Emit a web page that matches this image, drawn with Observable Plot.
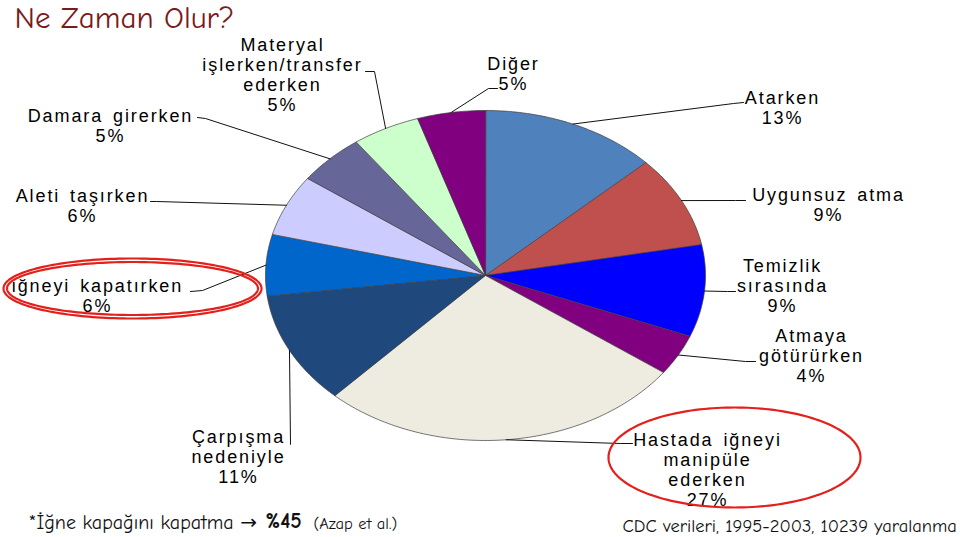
<!DOCTYPE html>
<html>
<head>
<meta charset="utf-8">
<script src="https://cdn.jsdelivr.net/npm/d3@7"></script>
<script src="https://cdn.jsdelivr.net/npm/@observablehq/plot@0.6"></script>
<style>
  html, body { margin: 0; padding: 0; background: #fff; }
  g[aria-description="slice-labels"] text { letter-spacing: 1.9px; word-spacing: 3px; }
</style>
</head>
<body>
<div id="chart"></div>
<script>
// ---------- DATA ----------
const categories = [
  "Atarken", "Uygunsuz atma", "Temizlik sırasında", "Atmaya götürürken",
  "Hastada iğneyi manipüle ederken", "Çarpışma nedeniyle", "iğneyi kapatırken",
  "Aleti taşırken", "Damara girerken", "Materyal işlerken/transfer ederken", "Diğer"
];
const values = [13, 9, 9, 4, 27, 11, 6, 6, 5, 5, 5];
const sliceColors = [
  "#4F81BD", "#C0504D", "#0000FF", "#800080", "#EEECE1", "#1F497D",
  "#0066CC", "#CCCCFF", "#666699", "#CCFFCC", "#800080"
];
// label text as it is broken into lines in the chart
const labelLines = [
  "Atarken", "Uygunsuz atma", "Temizlik\nsırasında", "Atmaya\ngötürürken",
  "Hastada iğneyi\nmanipüle\nederken", "Çarpışma\nnedeniyle", "iğneyi kapatırken",
  "Aleti taşırken", "Damara girerken", "Materyal\nişlerken/transfer\nederken", "Diğer"
];
const titleText = "Ne Zaman Olur?";
const noteText = "*İğne kapağını kapatma →";
const noteValue = "%45";
const noteSource = "(Azap et al.)";
const captionText = "CDC verileri, 1995-2003, 10239 yaralanma";

// ---------- LAYOUT (pixels) ----------
const pie = {cx: 485, cy: 275, rx: 220, ry: 165};
const labelLayout = [
  {x: 782, y: 107, knee: [733, 103], end: [743, 102]},
  {x: 828, y: 204, knee: [735, 200], end: [745, 200]},
  {x: 782, y: 285, knee: [727, 291], end: [735, 291]},
  {x: 811, y: 355, knee: [745, 361], end: [755, 361]},
  {x: 707, y: 469, knee: [620, 443], end: [632, 443]},
  {x: 238, y: 456, knee: [290, 444], end: [290, 444]},
  {x: 97,  y: 295, knee: [202, 290], end: [190, 291]},
  {x: 82,  y: 205, knee: [156, 201], end: [150, 201]},
  {x: 110, y: 125, knee: [205, 118], end: [197, 117]},
  {x: 282, y: 74,  knee: [374, 71],  end: [365, 71]},
  {x: 513, y: 73,  knee: [488, 88],  end: [497, 88]}
];
const highlightEllipses = [
  {cx: 132, cy: 288, rx: 129, ry: 30},
  {cx: 132, cy: 288, rx: 125.5, ry: 26.5},
  {cx: 734, cy: 457, rx: 126, ry: 50}
];

// ---------- GEOMETRY ----------
const arcs = d3.pie().sort(null).startAngle(0).endAngle(2 * Math.PI)(values);
const onEdge = (a) => [pie.cx + pie.rx * Math.sin(a), pie.cy - pie.ry * Math.cos(a)];

const sliceRows = [];
arcs.forEach((arc, i) => {
  sliceRows.push({i, x: pie.cx, y: pie.cy, color: sliceColors[i]});
  const n = Math.max(2, Math.ceil((arc.endAngle - arc.startAngle) / (Math.PI / 180)));
  for (let k = 0; k <= n; k++) {
    const [x, y] = onEdge(arc.startAngle + (arc.endAngle - arc.startAngle) * k / n);
    sliceRows.push({i, x, y, color: sliceColors[i]});
  }
});

const leaderRows = [];
arcs.forEach((arc, i) => {
  const [sx, sy] = onEdge((arc.startAngle + arc.endAngle) / 2);
  const L = labelLayout[i];
  leaderRows.push({i, x: sx, y: sy});
  leaderRows.push({i, x: L.knee[0], y: L.knee[1]});
  leaderRows.push({i, x: L.end[0], y: L.end[1]});
});

const labelRows = categories.map((c, i) => ({
  name: c,
  x: labelLayout[i].x,
  y: labelLayout[i].y,
  text: labelLines[i] + "\n" + values[i] + "%"
}));

const ellipseRows = [];
highlightEllipses.forEach((e, j) => {
  for (let k = 0; k < 180; k++) {
    const t = 2 * Math.PI * k / 180;
    ellipseRows.push({j, x: e.cx + e.rx * Math.cos(t), y: e.cy + e.ry * Math.sin(t)});
  }
});

const comic = "'Comic Sans MS', 'Comic Neue', 'DejaVu Sans', sans-serif";
const arial = "'Liberation Sans', Arial, sans-serif";

const chart = Plot.plot({
  width: 960,
  height: 537,
  margin: 0,
  x: {domain: [0, 960], range: [0, 960], axis: null},
  y: {domain: [0, 537], range: [0, 537], axis: null},
  color: {type: "identity"},
  style: {background: "#fff"},
  marks: [
    Plot.line(sliceRows, {x: "x", y: "y", z: "i", fill: "color", stroke: "#3c3c3c",
      strokeWidth: 0.7, curve: "linear-closed"}),
    Plot.line(leaderRows, {x: "x", y: "y", z: "i", stroke: "#111", strokeWidth: 1}),
    Plot.text(labelRows, {x: "x", y: "y", text: "text", fontSize: 18, lineHeight: 1.11,
      fontFamily: arial, fill: "#000", textAnchor: "middle", ariaDescription: "slice-labels"}),
    Plot.line(ellipseRows, {x: "x", y: "y", z: "j", stroke: "#E3211C", strokeWidth: 2.2,
      curve: "linear-closed"}),
    Plot.text([{t: titleText, x: 14, y: 18}], {x: "x", y: "y", text: "t", textAnchor: "start",
      fontSize: 31, fontFamily: comic, fill: "#7A1A1A"}),
    Plot.text([{t: noteText, x: 28, y: 522}], {x: "x", y: "y", text: "t", textAnchor: "start",
      fontSize: 20, fontFamily: comic, fill: "#111"}),
    Plot.text([{t: noteValue, x: 265, y: 521}], {x: "x", y: "y", text: "t", textAnchor: "start",
      fontSize: 21.5, fontWeight: "bold", fontFamily: comic, fill: "#111"}),
    Plot.text([{t: noteSource, x: 313, y: 523}], {x: "x", y: "y", text: "t", textAnchor: "start",
      fontSize: 16.5, fontFamily: comic, fill: "#111"}),
    Plot.text([{t: captionText, x: 622, y: 526}], {x: "x", y: "y", text: "t", textAnchor: "start",
      fontSize: 18.5, fontFamily: comic, fill: "#111"})
  ]
});
document.getElementById("chart").append(chart);
</script>
</body>
</html>
